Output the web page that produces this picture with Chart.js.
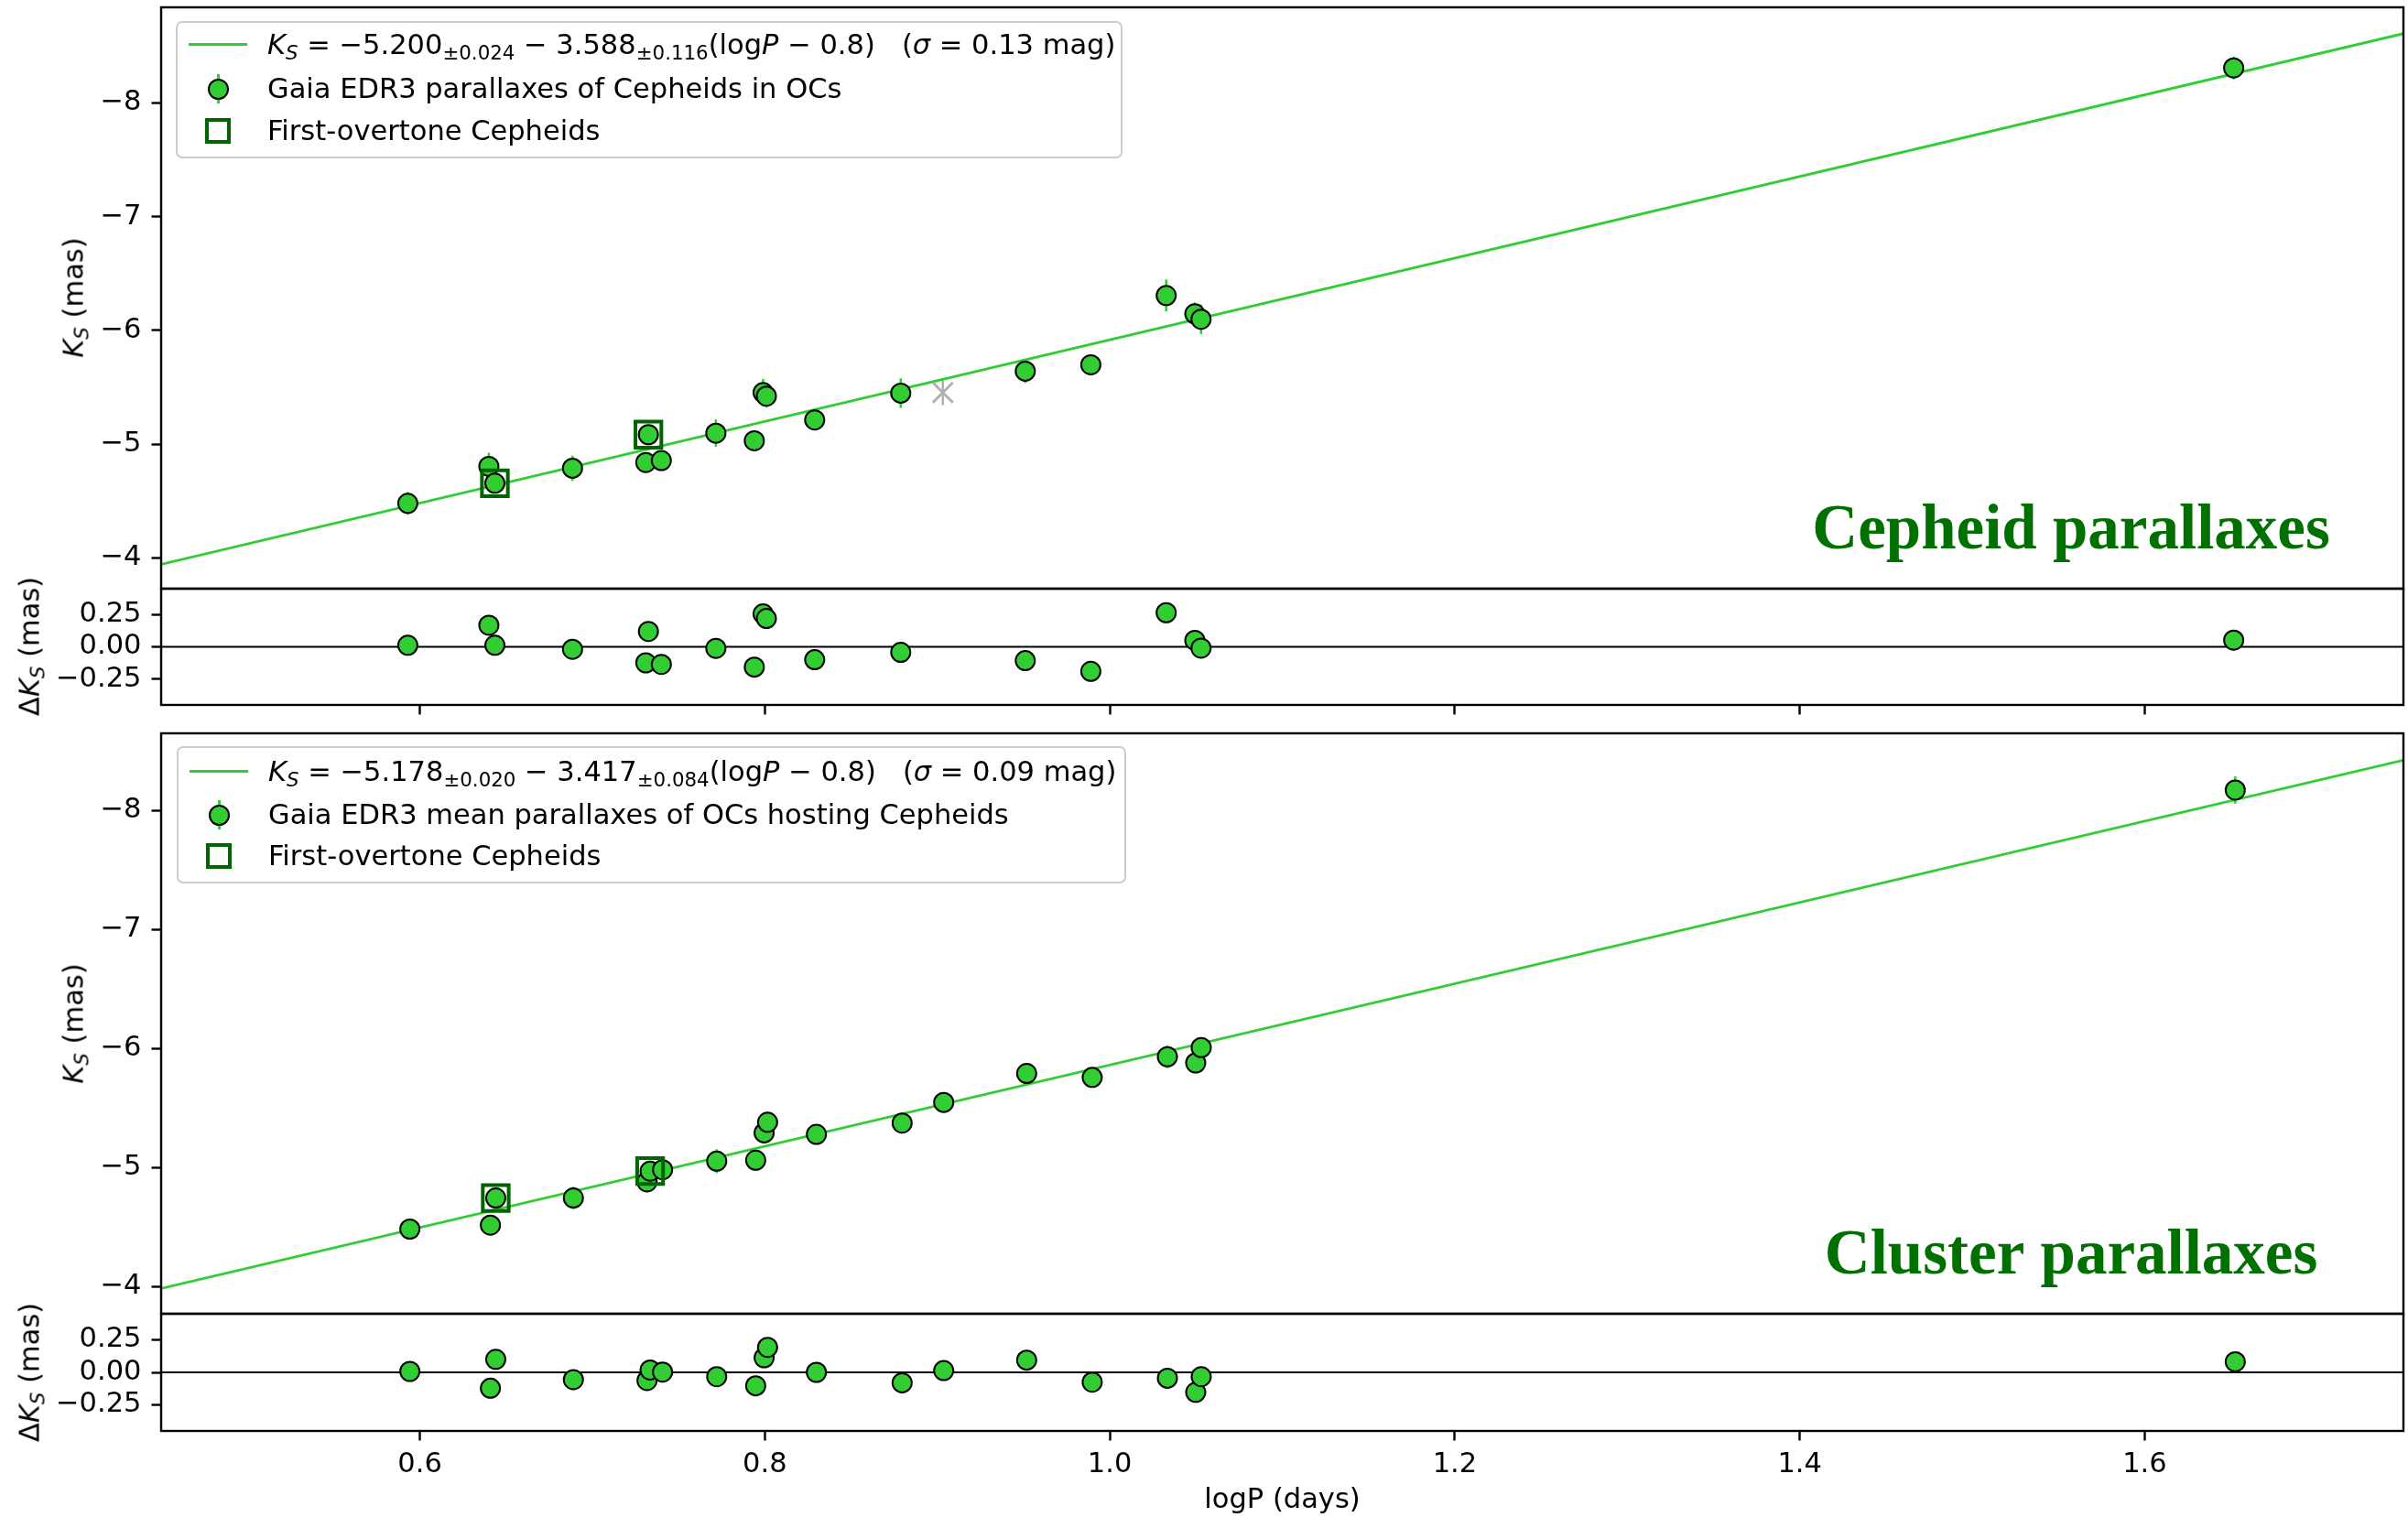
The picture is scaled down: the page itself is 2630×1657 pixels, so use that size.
<!DOCTYPE html>
<html>
<head>
<meta charset="utf-8">
<title>Cepheid PL relations</title>
<script src="https://cdn.jsdelivr.net/npm/chart.js@4.4.1/dist/chart.umd.min.js"></script>
<style>
  body { margin: 0; background: #fff; }
  #wrap { position: relative; width: 2630px; height: 1657px; font-family: 'DejaVu Sans', sans-serif; font-size: 30.5px; color: #000; }
  canvas { position: absolute; left: 0; }
  sub { font-size: 70%; vertical-align: -0.28em; line-height: 0; }
  .leg { position: absolute; border: 2px solid #cccccc; border-radius: 7px; background: rgba(255,255,255,0.8); box-sizing: border-box; }
  .row { position: absolute; left: 0; right: 0; height: 40px; }
  .txt { position: absolute; left: 98px; top: 0; line-height: 40px; white-space: nowrap; }
  .h-line { position: absolute; left: 12px; top: 18px; width: 64px; height: 3px; background: #32cd32; }
  .h-err { position: absolute; left: 43px; top: 4px; width: 2.5px; height: 32px; background: #32cd32; }
  .h-dot { position: absolute; left: 33px; top: 9px; width: 23px; height: 23px; border: 2px solid #000; border-radius: 50%; background: #32cd32; box-sizing: border-box; }
  .h-sq { position: absolute; left: 30px; top: 6px; width: 28px; height: 28px; border: 4px solid #006400; box-sizing: border-box; }
  .ylab { position: absolute; transform: translate(-50%, -50%) rotate(-90deg); white-space: nowrap; }
</style>
</head>
<body>
<div id="wrap">
  <canvas id="c-main-cep" width="2630" height="660" style="top:0px"></canvas>
  <canvas id="c-res-cep" width="2630" height="170" style="top:630px"></canvas>
  <canvas id="c-main-oc" width="2630" height="670" style="top:785px"></canvas>
  <canvas id="c-res-oc" width="2630" height="237" style="top:1420px"></canvas>

  <div class="ylab" style="left:80px; top:325px"><i>K</i><sub><i>S</i></sub> (mas)</div>
  <div class="ylab" style="left:32px; top:706px">Δ<i>K</i><sub><i>S</i></sub> (mas)</div>
  <div class="ylab" style="left:80px; top:1118px"><i>K</i><sub><i>S</i></sub> (mas)</div>
  <div class="ylab" style="left:32px; top:1499px">Δ<i>K</i><sub><i>S</i></sub> (mas)</div>

  <div class="leg" style="left:192px; top:23px; width:1034px; height:150px">
    <div class="row" style="top:4px"><span class="h-line"></span>
      <span class="txt"><i>K</i><sub><i>S</i></sub> = −5.200<sub>±0.024</sub> − 3.588<sub>±0.116</sub>(log<i>P</i> − 0.8)&nbsp;&nbsp;&nbsp;(<i>σ</i> = 0.13 mag)</span></div>
    <div class="row" style="top:52px"><span class="h-err"></span><span class="h-dot"></span>
      <span class="txt">Gaia EDR3 parallaxes of Cepheids in OCs</span></div>
    <div class="row" style="top:98px"><span class="h-sq"></span>
      <span class="txt">First-overtone Cepheids</span></div>
  </div>

  <div class="leg" style="left:193px; top:815px; width:1037px; height:150px">
    <div class="row" style="top:6px"><span class="h-line"></span>
      <span class="txt"><i>K</i><sub><i>S</i></sub> = −5.178<sub>±0.020</sub> − 3.417<sub>±0.084</sub>(log<i>P</i> − 0.8)&nbsp;&nbsp;&nbsp;(<i>σ</i> = 0.09 mag)</span></div>
    <div class="row" style="top:53px"><span class="h-err"></span><span class="h-dot"></span>
      <span class="txt">Gaia EDR3 mean parallaxes of OCs hosting Cepheids</span></div>
    <div class="row" style="top:98px"><span class="h-sq"></span>
      <span class="txt">First-overtone Cepheids</span></div>
  </div>
</div>

<script>
// Ejes compartidos
const X_MIN = 0.45, X_MAX = 1.75;
const xTicks     = [0.6, 0.8, 1.0, 1.2, 1.4, 1.6];
const yTicksMain = [-8, -7, -6, -5, -4];
const yTicksRes  = [-0.25, 0, 0.25];

// Panel superior: paralajes de las Cefeidas
const logPCep  = [0.593, 0.640, 0.6435, 0.6885, 0.731, 0.7325, 0.740, 0.7716, 0.7939, 0.799,
                  0.8009, 0.8289, 0.8788, 0.951, 0.989, 1.0327, 1.0493, 1.0529, 1.6516];
const ksCep    = [-4.48, -4.805, -4.657, -4.789, -4.839, -5.084, -4.856, -5.097, -5.030, -5.454,
                  -5.422, -5.213, -5.449, -5.642, -5.698, -6.307, -6.146, -6.098, -8.307];
const ksErrCep = [0.10, 0.12, 0.08, 0.11, 0.08, 0.08, 0.08, 0.12, 0.08, 0.12,
                  0.10, 0.08, 0.13, 0.105, 0.08, 0.14, 0.10, 0.13, 0.10];
const dKsCep   = [0.012, 0.167, 0.012, -0.019, -0.124, 0.119, -0.136, -0.012, -0.157, 0.255,
                  0.219, -0.10, -0.043, -0.107, -0.19, 0.264, 0.05, -0.01, 0.052];
const foLogPCep = [0.6435, 0.7325];
const foKsCep   = [-4.657, -5.084];
const rejLogPCep = [0.9032];
const rejKsCep   = [-5.454];
const rejErrCep  = [0.11];
const fitX      = [X_MIN, X_MAX];
const fitKsCep  = [-3.944, -8.609];

// Panel inferior: paralajes medias de los cúmulos
const logPOC  = [0.5942, 0.6409, 0.644, 0.689, 0.7317, 0.7335, 0.7407, 0.7721, 0.7947, 0.7996,
                 0.8016, 0.8299, 0.8796, 0.9037, 0.9518, 0.9898, 1.0334, 1.0498, 1.053, 1.6525];
const ksOC    = [-4.482, -4.515, -4.743, -4.743, -4.879, -4.969, -4.981, -5.053, -5.061, -5.291,
                 -5.380, -5.278, -5.373, -5.547, -5.790, -5.757, -5.931, -5.879, -6.008, -8.173];
const ksErrOC = [0.06, 0.085, 0.06, 0.095, 0.06, 0.06, 0.06, 0.10, 0.06, 0.06,
                 0.06, 0.06, 0.06, 0.06, 0.06, 0.06, 0.096, 0.06, 0.06, 0.115];
const dKsOC   = [0.007, -0.122, 0.10, -0.056, -0.063, 0.018, 0.002, -0.033, -0.103, 0.112,
                 0.192, 0.0, -0.08, 0.014, 0.094, -0.075, -0.045, -0.153, -0.033, 0.081];
const foLogPOC = [0.644, 0.7335];
const foKsOC   = [-4.743, -4.969];
const fitKsOC  = [-3.982, -8.424];

const LIME = '#32cd32', DARK = '#006400', GREY = '#b0b0b0';

Chart.defaults.font.family = "'DejaVu Sans', sans-serif";
Chart.defaults.font.size = 30.5;
Chart.defaults.color = '#000';
Chart.defaults.animation = false;

const pts = (xs, ys) => xs.map((x, i) => ({ x, y: ys[i] }));
const minus = v => (v < 0 ? '\u2212' : '');

// Marco negro alrededor del área del gráfico
const framePlugin = {
  id: 'frame',
  afterDraw(chart) {
    const { ctx, chartArea: a } = chart;
    ctx.save();
    ctx.strokeStyle = '#000';
    ctx.lineWidth = 2.4;
    ctx.strokeRect(a.left, a.top, a.right - a.left, a.bottom - a.top);
    ctx.restore();
  }
};

// Barras de error verticales (debajo de los marcadores)
const errorBarPlugin = {
  id: 'errorBars',
  beforeDatasetsDraw(chart) {
    const { ctx, chartArea: a, scales: { x, y } } = chart;
    ctx.save();
    ctx.beginPath();
    ctx.rect(a.left, a.top, a.right - a.left, a.bottom - a.top);
    ctx.clip();
    chart.data.datasets.forEach(ds => {
      if (!ds.errY) return;
      ctx.strokeStyle = ds.errColor;
      ctx.lineWidth = 2.5;
      ds.data.forEach((p, i) => {
        const px = x.getPixelForValue(p.x);
        ctx.beginPath();
        ctx.moveTo(px, y.getPixelForValue(p.y - ds.errY[i]));
        ctx.lineTo(px, y.getPixelForValue(p.y + ds.errY[i]));
        ctx.stroke();
      });
    });
    ctx.restore();
  }
};

// Línea horizontal de referencia en los residuos
const refLinePlugin = {
  id: 'refLine',
  beforeDatasetsDraw(chart, args, opts) {
    if (opts.value === undefined) return;
    const { ctx, chartArea: a, scales: { y } } = chart;
    const py = y.getPixelForValue(opts.value);
    ctx.save();
    ctx.strokeStyle = '#000';
    ctx.lineWidth = 2;
    ctx.beginPath();
    ctx.moveTo(a.left, py);
    ctx.lineTo(a.right, py);
    ctx.stroke();
    ctx.restore();
  }
};

// Título del panel (abajo a la derecha)
const panelLabelPlugin = {
  id: 'panelLabel',
  afterDatasetsDraw(chart, args, opts) {
    if (!opts.text) return;
    const { ctx, chartArea: a } = chart;
    ctx.save();
    ctx.font = "bold 69px 'Liberation Serif', serif";
    ctx.fillStyle = '#007000';
    ctx.textAlign = 'center';
    ctx.textBaseline = 'alphabetic';
    ctx.fillText(opts.text, a.left + opts.fx * (a.right - a.left), a.bottom - opts.dy);
    ctx.restore();
  }
};

Chart.register(framePlugin, errorBarPlugin, refLinePlugin, panelLabelPlugin);

function xAxis(show, labels) {
  return {
    type: 'linear', min: X_MIN, max: X_MAX, display: show,
    afterBuildTicks: s => { s.ticks = xTicks.map(v => ({ value: v })); },
    grid: { drawOnChartArea: false, drawTicks: true, tickLength: 10.5, tickWidth: 2.4, tickColor: '#000' },
    border: { display: false },
    ticks: { padding: 8, maxRotation: 0, autoSkip: false,
             callback: v => labels ? v.toFixed(1) : '' },
    title: { display: labels, text: 'logP (days)', padding: { top: 0, bottom: 0 } },
    afterFit: s => {
      // el eje oculto de los paneles principales no ocupa sitio
      s.height = show ? (labels ? 94 : 30) : 0;
      s.paddingLeft = 0; s.paddingRight = 0;
    }
  };
}

function yAxis(min, max, reverse, ticks, fmt) {
  return {
    type: 'linear', min, max, reverse,
    afterBuildTicks: s => { s.ticks = ticks.map(v => ({ value: v })); },
    grid: { drawOnChartArea: false, drawTicks: true, tickLength: 10.5, tickWidth: 2.4, tickColor: '#000' },
    border: { display: false },
    ticks: { padding: 11, callback: fmt },
    afterFit: s => {
      s.width = 176;
      s.paddingTop = 0; s.paddingBottom = 0;
    }
  };
}

const fmtMain = v => minus(v) + Math.abs(v).toFixed(0);
const fmtRes  = v => minus(v) + Math.abs(v).toFixed(2);

function dotSet(xs, ys, errs) {
  return {
    data: pts(xs, ys), errY: errs, errColor: LIME,
    pointRadius: 10.5, pointBorderWidth: 2,
    pointBackgroundColor: LIME, pointBorderColor: '#000', order: 2
  };
}

function mainChart(id, pad, cfg) {
  const datasets = [
    { data: pts(fitX, cfg.fit), showLine: true, borderColor: LIME, borderWidth: 2.8,
      pointRadius: 0, order: 4 },
    dotSet(cfg.logP, cfg.ks, cfg.err),
    { data: pts(cfg.foLogP, cfg.foKs), pointStyle: 'rect', pointRadius: 20,
      pointBackgroundColor: 'rgba(0,0,0,0)', pointBorderColor: DARK, pointBorderWidth: 4, order: 1 }
  ];
  if (cfg.rejLogP) {
    datasets.push({ data: pts(cfg.rejLogP, cfg.rejKs), errY: cfg.rejErr, errColor: GREY,
      pointStyle: 'crossRot', pointRadius: 15.5, pointBorderWidth: 3,
      pointBorderColor: GREY, order: 3 });
  }
  return new Chart(document.getElementById(id), {
    type: 'scatter',
    data: { datasets },
    options: {
      responsive: false, events: [],
      layout: { padding: pad, autoPadding: false },
      scales: { x: xAxis(false, false), y: yAxis(cfg.yMin, cfg.yMax, true, yTicksMain, fmtMain) },
      plugins: { legend: { display: false }, tooltip: { enabled: false },
                 panelLabel: { text: cfg.title, fx: 0.8518, dy: 44 } }
    }
  });
}

function resChart(id, pad, xs, res, labels) {
  const ds = dotSet(xs, res, null);
  return new Chart(document.getElementById(id), {
    type: 'scatter',
    data: { datasets: [ds] },
    options: {
      responsive: false, events: [],
      layout: { padding: pad, autoPadding: false },
      scales: { x: xAxis(true, labels), y: yAxis(-0.45, 0.45, false, yTicksRes, fmtRes) },
      plugins: { legend: { display: false }, tooltip: { enabled: false },
                 refLine: { value: 0 } }
    }
  });
}

mainChart('c-main-cep', { top: 8, right: 5, bottom: 17, left: 0 }, {
  logP: logPCep, ks: ksCep, err: ksErrCep, foLogP: foLogPCep, foKs: foKsCep,
  rejLogP: rejLogPCep, rejKs: rejKsCep, rejErr: rejErrCep,
  fit: fitKsCep, yMin: -8.84, yMax: -3.73, title: 'Cepheid parallaxes'
});
resChart('c-res-cep', { top: 13, right: 5, bottom: 0, left: 0 }, logPCep, dKsCep, false);

mainChart('c-main-oc', { top: 16, right: 5, bottom: 20, left: 0 }, {
  logP: logPOC, ks: ksOC, err: ksErrOC, foLogP: foLogPOC, foKs: foKsOC,
  fit: fitKsOC, yMin: -8.65, yMax: -3.77, title: 'Cluster parallaxes'
});
resChart('c-res-oc', { top: 15, right: 5, bottom: 0, left: 0 }, logPOC, dKsOC, true);
</script>
</body>
</html>
